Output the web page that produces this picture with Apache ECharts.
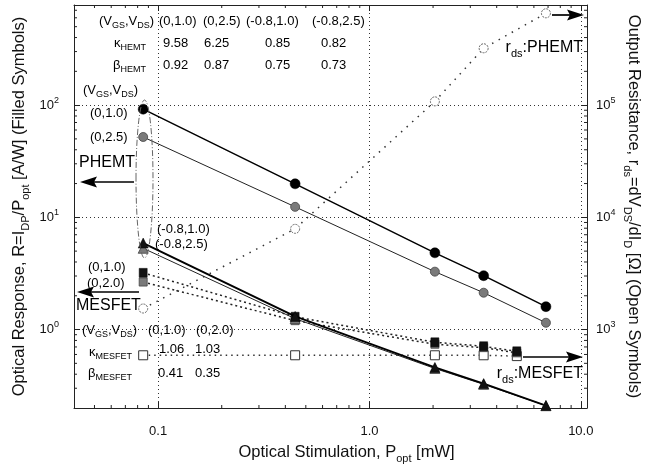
<!DOCTYPE html>
<html>
<head>
<meta charset="UTF-8">
<title>optical response</title>
<style>
  html, body { margin: 0; padding: 0; background: #fff; }
  #chart { width: 650px; height: 472px; }
</style>
</head>
<body>
<div id="chart"></div>
<script src="https://cdn.jsdelivr.net/npm/echarts@6/dist/echarts.min.js"></script>
<script>
// optical stimulation [mW]
var pOpt = [0.085, 0.445, 2.04, 3.47, 6.84];
var pOptMes = [0.085, 0.445, 2.04, 3.47, 4.98];

// PHEMT responsivity [A/W], (Vgs,Vds)
var hemt_0_10 = [92, 19.9, 4.83, 3.02, 1.6];
var hemt_0_25 = [52, 12.4, 3.28, 2.13, 1.15];
var hemt_m08_10 = [5.9, 1.31, 0.46, 0.33, 0.21];
var hemt_m08_25 = [5.3, 1.25, 0.45, 0.325, 0.21];

// MESFET responsivity [A/W]
var mes_0_10 = [3.2, 1.3, 0.77, 0.71, 0.64];
var mes_0_20 = [2.65, 1.2, 0.74, 0.69, 0.62];

// output resistance [ohm]
var rdsHemt = [1540, 7900, 108000, 321000, 658000];
var rdsMes = [590, 590, 590, 590, 580];

// tick labels
var xTicks = [0.1, 1, 10];
var xTickText = ['0.1', '1.0', '10.0'];
var yLeftTicks = [1, 10, 100];
var yRightTicks = [1000, 10000, 100000];
var xMinorTicks = [0.05, 0.06, 0.07, 0.08, 0.09, 0.2, 0.3, 0.4, 0.5, 0.6, 0.7, 0.8, 0.9, 2, 3, 4, 5, 6, 7, 8, 9];
var yMinorTicks = [0.3, 0.4, 0.5, 0.6, 0.7, 0.8, 0.9, 2, 3, 4, 5, 6, 7, 8, 9, 20, 30, 40, 50, 60, 70, 80, 90, 200, 300, 400, 500, 600, 700];

var F = 'Liberation Sans';
var INK = '#111';
var RICH = {
    n: {fontSize: 13, fontFamily: F, color: INK, lineHeight: 19, verticalAlign: 'middle'},
    s: {fontSize: 9, fontFamily: F, color: INK, lineHeight: 19, verticalAlign: 'bottom'},
    p: {fontSize: 9, fontFamily: F, color: INK, lineHeight: 19, verticalAlign: 'top'},
    b: {fontSize: 16, fontFamily: F, color: INK, lineHeight: 22, verticalAlign: 'middle'},
    bs: {fontSize: 11, fontFamily: F, color: INK, lineHeight: 22, verticalAlign: 'bottom'},
    t: {fontSize: 16.5, fontFamily: F, color: INK, lineHeight: 23, verticalAlign: 'middle'},
    ts: {fontSize: 11, fontFamily: F, color: INK, lineHeight: 23, verticalAlign: 'bottom'}
};

function pairs(xs, ys) {
    return xs.map(function (x, i) { return [x, ys[i]]; });
}
function findTick(v, list) {
    for (var i = 0; i < list.length; i++) {
        if (Math.abs(Math.log10(v) - Math.log10(list[i])) < 1e-6) return i;
    }
    return -1;
}
function powLabel(list) {
    return function (v) {
        var i = findTick(v, list);
        if (i < 0) return '';
        return '{n|10}{p|' + Math.round(Math.log10(list[i])) + '}';
    };
}

function lab(x, y, text, align) {
    return {
        type: 'text', x: x, y: y, silent: true, z: 50,
        style: {text: text, rich: RICH, align: align || 'left', verticalAlign: 'middle',
                textAlign: align || 'left', textVerticalAlign: 'middle'}
    };
}
function arrow(x1, x2, y, dir) {
    // dir -1 points left, 1 points right
    var tip = x2, back = x2 - dir * 17, notch = x2 - dir * 14;
    return [
        {type: 'line', silent: true, z: 50, shape: {x1: x1, y1: y, x2: notch, y2: y}, style: {stroke: '#000', lineWidth: 1.7}},
        {type: 'polygon', silent: true, z: 50, shape: {points: [[tip, y], [back, y - 5.5], [notch, y], [back, y + 5.5]]}, style: {fill: '#000'}}
    ];
}

var vgs = '{n|(V}{s|GS}{n|,V}{s|DS}{n|)}';
var graphics = [
    lab(99, 21, vgs), lab(159, 21, '{n|(0,1.0)}'), lab(203, 21, '{n|(0,2.5)}'),
    lab(246, 21, '{n|(-0.8,1.0)}'), lab(312, 21, '{n|(-0.8,2.5)}'),
    lab(114, 43, '{n|κ}{s|HEMT}'), lab(163, 43, '{n|9.58}'), lab(204, 43, '{n|6.25}'),
    lab(265, 43, '{n|0.85}'), lab(321, 43, '{n|0.82}'),
    lab(113, 65, '{n|β}{s|HEMT}'), lab(163, 65, '{n|0.92}'), lab(204, 65, '{n|0.87}'),
    lab(265, 65, '{n|0.75}'), lab(321, 65, '{n|0.73}'),

    lab(83, 90, vgs), lab(90, 113, '{n|(0,1.0)}'), lab(90, 137, '{n|(0,2.5)}'),
    lab(79, 163, '{b|PHEMT}'),
    lab(157, 229, '{n|(-0.8,1.0)}'), lab(155, 244, '{n|(-0.8,2.5)}'),

    lab(88, 267, '{n|(0,1.0)}'), lab(87, 283, '{n|(0,2.0)}'), lab(76, 306, '{b|MESFET}'),
    lab(82, 330, vgs), lab(148, 330, '{n|(0,1.0)}'), lab(196, 330, '{n|(0,2.0)}'),
    lab(89, 352, '{n|κ}{s|MESFET}'), lab(159, 349, '{n|1.06}'), lab(195, 349, '{n|1.03}'),
    lab(88, 373, '{n|β}{s|MESFET}'), lab(158, 373, '{n|0.41}'), lab(195, 373, '{n|0.35}'),

    lab(583, 48, '{b|r}{bs|ds}{b|:PHEMT}', 'right'),
    lab(583, 374, '{b|r}{bs|ds}{b|:MESFET}', 'right'),

    {type: 'ellipse', silent: true, z: 40, shape: {cx: 144.5, cy: 179, rx: 8.5, ry: 79},
     style: {fill: 'none', stroke: '#666', lineWidth: 1, lineDash: [6, 2, 1, 2]}}
].concat(arrow(134, 80, 182, -1), arrow(139, 77, 292, -1),
         arrow(552, 584, 15, 1), arrow(523, 583, 357, 1));

function axisBase(extra) {
    var base = {
        type: 'log', logBase: 10,
        axisLine: {show: true, onZero: false, lineStyle: {color: '#222', width: 1}},
        axisTick: {show: true, inside: true, length: 6, lineStyle: {color: '#222', width: 1}},
        minorTick: {show: false},
        splitLine: {show: false},
        nameMoveOverlap: false
    };
    for (var k in extra) base[k] = extra[k];
    return base;
}

function xMinorRender(params, api) {
    var cs = params.coordSys;
    var x = api.coord([api.value(0), api.value(1)])[0];
    var st = {stroke: '#222', lineWidth: 1};
    return {type: 'group', children: [
        {type: 'line', shape: {x1: x, y1: cs.y + cs.height, x2: x, y2: cs.y + cs.height - 3}, style: st},
        {type: 'line', shape: {x1: x, y1: cs.y, x2: x, y2: cs.y + 3}, style: st}
    ]};
}
function yMinorRender(params, api) {
    var cs = params.coordSys;
    var y = api.coord([api.value(0), api.value(1)])[1];
    var st = {stroke: '#222', lineWidth: 1};
    return {type: 'group', children: [
        {type: 'line', shape: {x1: cs.x, y1: y, x2: cs.x + 3, y2: y}, style: st},
        {type: 'line', shape: {x1: cs.x + cs.width, y1: y, x2: cs.x + cs.width - 3, y2: y}, style: st}
    ]};
}

var gridLine = {show: true, lineStyle: {type: [1, 3], color: '#333', width: 1}};

var option = {
    animation: false,
    backgroundColor: '#fff',
    textStyle: {fontFamily: F},
    grid: {left: 74, right: 63, top: 5, bottom: 64},
    xAxis: [
        axisBase({
            position: 'bottom', min: 0.04, max: 10.7,
            splitLine: gridLine,
            axisLabel: {margin: 17, fontSize: 13, fontFamily: F, color: INK,
                formatter: function (v) { var i = findTick(v, xTicks); return i < 0 ? '' : xTickText[i]; }},
            name: '{t|Optical Stimulation, P}{ts|opt}{t| [mW]}',
            nameLocation: 'middle', nameGap: 33,
            nameTextStyle: {rich: RICH, padding: [0, 0, 0, 32]}
        }),
        axisBase({position: 'top', min: 0.04, max: 10.7, axisLabel: {show: false}})
    ],
    yAxis: [
        axisBase({
            position: 'left', min: 0.2, max: 780,
            splitLine: gridLine,
            axisLabel: {margin: 15, rich: RICH, formatter: powLabel(yLeftTicks)},
            name: '{t|Optical Response, R=I}{ts|DP}{t|/P}{ts|opt}{t| [A/W] (Filled Symbols)}',
            nameLocation: 'middle', nameGap: 43,
            nameTextStyle: {rich: RICH}
        }),
        axisBase({
            position: 'right', min: 200, max: 780000,
            axisLabel: {margin: 9, rich: RICH, formatter: powLabel(yRightTicks)},
            name: '{t|Output Resistance, r}{ts|ds}{t|=dV}{ts|DS}{t|/dI}{ts|D}{t| [Ω] (Open Symbols)}',
            nameLocation: 'middle', nameGap: 35, nameRotate: -90,
            nameTextStyle: {rich: RICH}
        })
    ],
    graphic: {elements: graphics},
    series: [
        {type: 'custom', name: 'xminor', silent: true, clip: false, xAxisIndex: 0, yAxisIndex: 0,
         renderItem: xMinorRender, data: xMinorTicks.map(function (v) { return [v, 1]; })},
        {type: 'custom', name: 'yminor', silent: true, clip: false, xAxisIndex: 0, yAxisIndex: 0,
         renderItem: yMinorRender, data: yMinorTicks.map(function (v) { return [1, v]; })},

        {type: 'line', name: 'rds PHEMT', yAxisIndex: 1, data: pairs(pOpt, rdsHemt),
         symbol: 'circle', symbolSize: 9, z: 3,
         lineStyle: {color: '#333', width: 1.5, type: [1.5, 6]},
         itemStyle: {color: '#fff', borderColor: '#666', borderWidth: 1, borderType: [2, 1]}},
        {type: 'line', name: 'rds MESFET', yAxisIndex: 1, data: pairs(pOptMes, rdsMes),
         symbol: 'rect', symbolSize: 9, z: 3,
         lineStyle: {color: '#333', width: 1.5, type: [1.5, 4]},
         itemStyle: {color: '#fff', borderColor: '#333', borderWidth: 1}},

        {type: 'line', name: 'MESFET (0,2.0)', data: pairs(pOptMes, mes_0_20),
         symbol: 'rect', symbolSize: [8, 8], z: 4,
         lineStyle: {color: '#222', width: 1.5, type: [2, 3]},
         itemStyle: {color: '#7a7a7a', borderColor: '#444', borderWidth: 0.8}},
        {type: 'line', name: 'MESFET (0,1.0)', data: pairs(pOptMes, mes_0_10),
         symbol: 'rect', symbolSize: [8, 9], z: 4,
         lineStyle: {color: '#222', width: 1.5, type: [2, 3]},
         itemStyle: {color: '#111', borderColor: '#000', borderWidth: 0.5}},

        {type: 'line', name: 'HEMT (-0.8,2.5)', data: pairs(pOpt, hemt_m08_25),
         symbol: 'triangle', symbolSize: 10, z: 5,
         lineStyle: {color: '#222', width: 1},
         itemStyle: {color: '#7a7a7a', borderColor: '#444', borderWidth: 0.8}},
        {type: 'line', name: 'HEMT (-0.8,1.0)', data: pairs(pOpt, hemt_m08_10),
         symbol: 'triangle', symbolSize: 10, z: 5,
         lineStyle: {color: '#000', width: 2},
         itemStyle: {color: '#111', borderColor: '#000', borderWidth: 0.5}},
        {type: 'line', name: 'HEMT (0,2.5)', data: pairs(pOpt, hemt_0_25),
         symbol: 'circle', symbolSize: 9, z: 5,
         lineStyle: {color: '#222', width: 1},
         itemStyle: {color: '#7a7a7a', borderColor: '#444', borderWidth: 0.8}},
        {type: 'line', name: 'HEMT (0,1.0)', data: pairs(pOpt, hemt_0_10),
         symbol: 'circle', symbolSize: 10, z: 5,
         lineStyle: {color: '#000', width: 1.5},
         itemStyle: {color: '#000', borderColor: '#000', borderWidth: 0.5}}
    ]
};

var chart = echarts.init(document.getElementById('chart'));
chart.setOption(option);
</script>
</body>
</html>
